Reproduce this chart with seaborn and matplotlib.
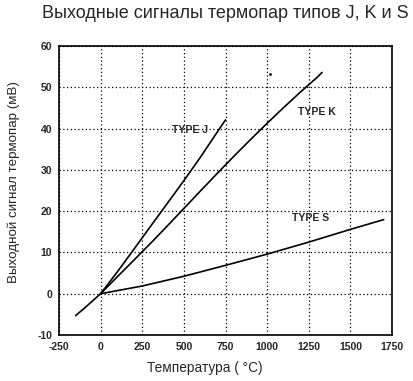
import matplotlib
matplotlib.use("Agg")
import matplotlib.pyplot as plt
import seaborn as sns
import pandas as pd

# ---- data ----
temp_j = [0, 100, 200, 300, 400, 500, 600, 700, 750]
volt_j = [0.0, 5.27, 10.78, 16.33, 21.85, 27.39, 33.10, 39.13, 42.1]

temp_k = [-150, -100, 0, 100, 200, 300, 400, 500, 600, 700, 800, 900, 1000, 1100, 1200, 1300, 1330]
volt_k = [-5.3, -3.6, 0.0, 4.10, 8.14, 12.21, 16.40, 20.64, 24.91, 29.13, 33.28, 37.33, 41.28, 45.12, 48.84, 52.41, 53.6]

temp_s = [0, 250, 500, 750, 1000, 1250, 1500, 1700]
volt_s = [0.0, 1.87, 4.23, 6.87, 9.59, 12.50, 15.58, 17.95]

labels = ["TYPE J", "TYPE K", "TYPE S"]
label_pos_t = [535, 1300, 1262]
label_pos_v = [39.7, 44.0, 18.3]

stray_t = [1015]
stray_v = [53.3]

x_ticks = [-250, 0, 250, 500, 750, 1000, 1250, 1500, 1750]
y_ticks = [-10, 0, 10, 20, 30, 40, 50, 60]

title = "Выходные сигналы термопар типов J, K и S"
xlabel = "Температура ( °C)"
ylabel = "Выходной сигнал термопар (мВ)"

df = pd.concat([
    pd.DataFrame({"t": temp_j, "v": volt_j, "type": "J"}),
    pd.DataFrame({"t": temp_k, "v": volt_k, "type": "K"}),
    pd.DataFrame({"t": temp_s, "v": volt_s, "type": "S"}),
])

sns.set_style("white")
plt.rcParams["font.family"] = ["Liberation Sans", "DejaVu Sans"]

fig = plt.figure(figsize=(4.13, 3.81), dpi=100)
ax = fig.add_axes([59/413, 1 - 335/381, (392-59)/413, (335-46)/381])

sns.lineplot(data=df, x="t", y="v", hue="type", units="type", estimator=None,
             palette=["black", "black", "black"], linewidth=1.2, legend=False,
             sort=False, ax=ax)
sns.scatterplot(x=stray_t, y=stray_v, color="black", s=4, ax=ax, linewidth=0)

for lab, t, v in zip(labels, label_pos_t, label_pos_v):
    ax.text(t, v, lab, ha="center", va="center", fontsize=7.5, fontweight="bold")

ax.set_xlim(-250, 1750)
ax.set_ylim(-10, 60)
ax.set_xticks(x_ticks)
ax.set_yticks(y_ticks)
ax.set_xticklabels([str(t) for t in x_ticks], fontsize=7.5, fontweight="bold")
ax.set_yticklabels([str(t) for t in y_ticks], fontsize=7.5, fontweight="bold")
ax.tick_params(length=0, pad=5)
ax.grid(True, linestyle=(0, (1, 2)), color="black", linewidth=0.9)
for s in ax.spines.values():
    s.set_color("black")
    s.set_linewidth(1.2)
ax.set_xlabel("")
ax.set_ylabel("")

fig.text(225/413, 1 - 14/381, title, ha="center", va="center", fontsize=13)
fig.text(205/413, 1 - 368/381, xlabel, ha="center", va="center", fontsize=9.8)
fig.text(14/413, 1 - 182/381, ylabel, ha="center", va="center", rotation=90, fontsize=9.6)

fig.savefig("out.png", dpi=100)
